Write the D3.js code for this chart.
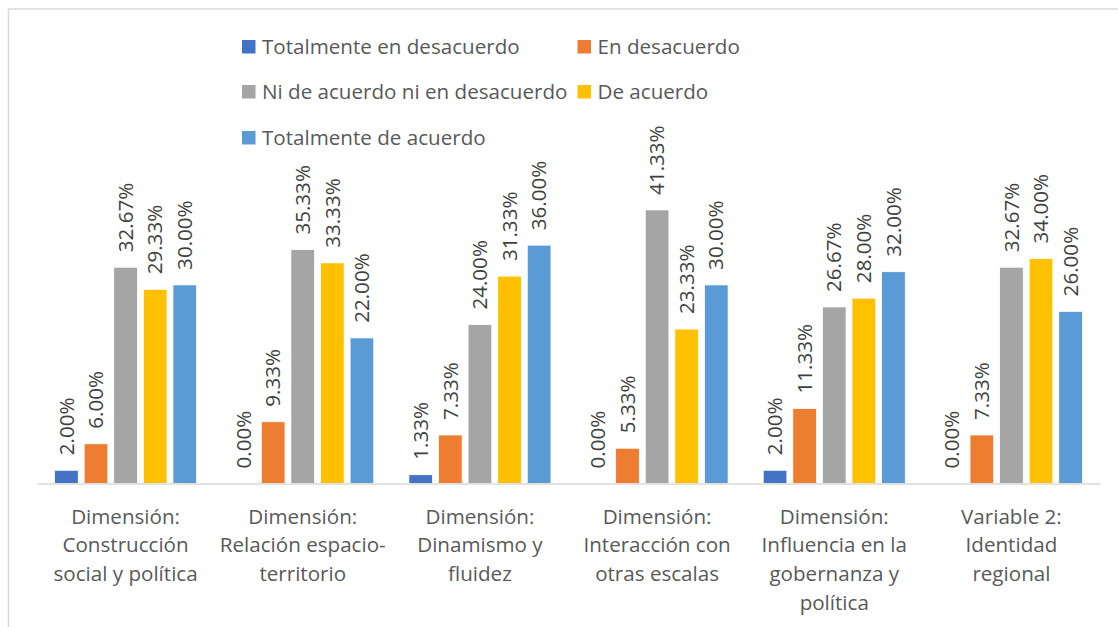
<!DOCTYPE html>
<html>
<head>
<meta charset="utf-8">
<script src="https://cdn.jsdelivr.net/npm/d3@7"></script>
<style>
  html, body { margin: 0; padding: 0; background: #fff; }
  svg { display: block; }
  text { font-family: "Open Sans", "Noto Sans", sans-serif; }
</style>
</head>
<body>
<svg id="chart" width="1118" height="627"></svg>
<script>
const categories = [
  "Dimensión: Construcción social y política",
  "Dimensión: Relación espacio-territorio",
  "Dimensión: Dinamismo y fluidez",
  "Dimensión: Interacción con otras escalas",
  "Dimensión: Influencia en la gobernanza y política",
  "Variable 2: Identidad regional"
];
const categoryLines = [
  ["Dimensión:", "Construcción", "social y política"],
  ["Dimensión:", "Relación espacio-", "territorio"],
  ["Dimensión:", "Dinamismo y", "fluidez"],
  ["Dimensión:", "Interacción con", "otras escalas"],
  ["Dimensión:", "Influencia en la", "gobernanza y", "política"],
  ["Variable 2:", "Identidad", "regional"]
];
const seriesNames = [
  "Totalmente en desacuerdo",
  "En desacuerdo",
  "Ni de acuerdo ni en desacuerdo",
  "De acuerdo",
  "Totalmente de acuerdo"
];
const totalmenteEnDesacuerdo = [2.00, 0.00, 1.33, 0.00, 2.00, 0.00];
const enDesacuerdo = [6.00, 9.33, 7.33, 5.33, 11.33, 7.33];
const niDeAcuerdoNiEnDesacuerdo = [32.67, 35.33, 24.00, 41.33, 26.67, 32.67];
const deAcuerdo = [29.33, 33.33, 31.33, 23.33, 28.00, 34.00];
const totalmenteDeAcuerdo = [30.00, 22.00, 36.00, 30.00, 32.00, 26.00];
const seriesColors = ["#4472C4", "#ED7D31", "#A5A5A5", "#FFC000", "#5B9BD5"];

const seriesValues = [totalmenteEnDesacuerdo, enDesacuerdo, niDeAcuerdoNiEnDesacuerdo, deAcuerdo, totalmenteDeAcuerdo];

const svg = d3.select("#chart");
const FONT = 20.6;

// chart border
svg.append("rect")
  .attr("x", 8.5).attr("y", 9).attr("width", 1300).attr("height", 800)
  .attr("fill", "none").attr("stroke", "#d9d9d9").attr("stroke-width", 1.5);

const plotLeft = 37, plotRight = 1100, baseY = 483.5;
const x0 = d3.scaleBand().domain(categories).range([plotLeft, plotRight]).padding(0);
const x1 = d3.scaleBand().domain(seriesNames).range([0, x0.bandwidth()])
  .paddingInner(0.2).paddingOuter(0.593);
const y = d3.scaleLinear().domain([0, 45]).range([baseY, baseY - 297.9]);

const data = [];
categories.forEach((c, ci) => {
  seriesNames.forEach((s, si) => {
    data.push({ cat: c, ser: s, si, value: seriesValues[si][ci] });
  });
});

const g = svg.append("g");
g.selectAll("rect.bar").data(data).enter().append("rect")
  .attr("class", "bar")
  .attr("x", d => x0(d.cat) + x1(d.ser))
  .attr("y", d => y(d.value))
  .attr("width", x1.bandwidth())
  .attr("height", d => baseY - y(d.value))
  .attr("fill", d => seriesColors[d.si])
  .attr("stroke", "#fff").attr("stroke-width", d => d.value > 0 ? 0.8 : 0);

// baseline axis
const xAxis = d3.axisBottom(x0).tickSize(0).tickFormat("");
const axG = svg.append("g").attr("transform", `translate(0,${baseY})`).call(xAxis);
axG.select(".domain").attr("stroke", "#d9d9d9").attr("stroke-width", 1.5);

// data labels
g.selectAll("text.lbl").data(data).enter().append("text")
  .attr("class", "lbl")
  .attr("transform", d => `translate(${x0(d.cat) + x1(d.ser) + x1.bandwidth() / 2},${y(d.value) - 15}) rotate(-90)`)
  .attr("dy", "0.35em")
  .attr("text-anchor", "start")
  .attr("fill", "#404040")
  .attr("font-size", FONT)
  .text(d => d.value.toFixed(2) + "%");

// category labels
categories.forEach((c, ci) => {
  const t = svg.append("text")
    .attr("x", x0(c) + x0.bandwidth() / 2)
    .attr("y", 523.5)
    .attr("text-anchor", "middle")
    .attr("fill", "#595959")
    .attr("font-size", FONT);
  categoryLines[ci].forEach((line, li) => {
    t.append("tspan").attr("x", x0(c) + x0.bandwidth() / 2).attr("y", 523.5 + li * 28.7).text(line);
  });
});

// legend
const legendPos = [[242, 47], [577.5, 47], [242, 92], [577.5, 92], [242, 138]];
seriesNames.forEach((s, si) => {
  const [lx, ly] = legendPos[si];
  svg.append("rect").attr("x", lx).attr("y", ly - 7).attr("width", 13.5).attr("height", 13.5)
    .attr("fill", seriesColors[si]);
  svg.append("text").attr("x", lx + 20).attr("y", ly).attr("dy", "0.35em")
    .attr("fill", "#595959").attr("font-size", FONT).text(s);
});
</script>
</body>
</html>
